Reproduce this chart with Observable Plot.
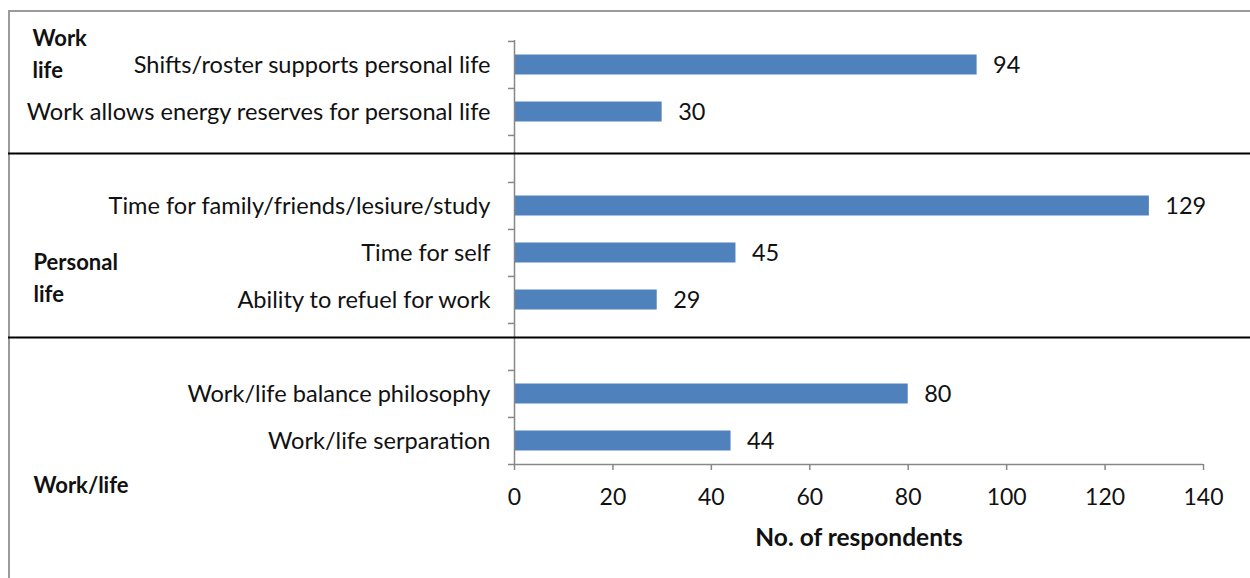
<!DOCTYPE html>
<html>
<head>
<meta charset="utf-8">
<script src="https://cdn.jsdelivr.net/npm/d3@7"></script>
<script src="https://cdn.jsdelivr.net/npm/@observablehq/plot@0.6"></script>
<style>
  html, body { margin: 0; padding: 0; background: #fff; }
  #wrap { position: relative; width: 1250px; height: 578px; overflow: hidden; }
  #border { position: absolute; left: 8px; top: 10px; right: -10px; bottom: -10px;
            border-left: 2px solid #9a9a9a; border-top: 2px solid #9a9a9a; pointer-events: none; }
  svg { font-family: Lato, "Open Sans", sans-serif; }
</style>
</head>
<body>
<div id="wrap"><div id="border"></div></div>
<script>
const categories = [
  "Shifts/roster supports personal life",
  "Work allows energy reserves for personal life",
  " ",
  "Time for family/friends/lesiure/study",
  "Time for self",
  "Ability to refuel for work",
  "  ",
  "Work/life balance philosophy",
  "Work/life serparation"
];
const values = [94, 30, null, 129, 45, 29, null, 80, 44];
const groupNames = ["Work\nlife", "Personal\nlife", "Work/life"];
const groupAnchor = ["Shifts/roster supports personal life", "Time for self", "Work/life serparation"];
const xTicks = [0, 20, 40, 60, 80, 100, 120, 140];
const xLabel = "No. of respondents";

const data = categories.map((c, i) => ({category: c, value: values[i]})).filter(d => d.value != null);
const groups = groupNames.map((g, i) => ({name: g, anchor: groupAnchor[i]}));

const W = 1250, H = 578, mL = 514, mR = 47, mT = 40, mB = 114;
const bw = (H - mT - mB) / categories.length;
const blue = "#4F81BD", axisGray = "#878787";

const chart = Plot.plot({
  width: W, height: H,
  marginLeft: mL, marginRight: mR, marginTop: mT, marginBottom: mB,
  style: {fontFamily: "Lato, 'Open Sans', sans-serif", background: "transparent", overflow: "visible"},
  x: {domain: [0, 140], axis: null},
  y: {domain: categories, padding: 0, axis: null},
  marks: [
    Plot.barX(data, {x: "value", y: "category", fill: blue, insetTop: 13.5, insetBottom: 13.5}),
    Plot.text(data, {x: "value", y: "category", text: d => String(d.value), textAnchor: "start", dx: 16, fontSize: 23.5, fill: "#111"}),
    // y axis labels
    Plot.axisY({tickSize: 0, tickPadding: 24, fontSize: 23.6, fill: "#111", tickFormat: d => d}),
    // y axis tick marks at band boundaries
    Plot.ruleY(categories, {y: d => d, x1: 0, x2: 0, insetLeft: -6, dy: -bw / 2, stroke: axisGray, strokeWidth: 1.5}),
    // y axis line
    Plot.ruleX([0], {stroke: axisGray, strokeWidth: 1.5}),
    // x axis line
    Plot.ruleY([categories[categories.length - 1]], {dy: bw / 2, insetLeft: -6, stroke: axisGray, strokeWidth: 1.5}),
    // x axis
    Plot.axisX(xTicks, {anchor: "bottom", tickSize: 6, tickPadding: 18, fontSize: 23, fill: "#111", stroke: axisGray, strokeWidth: 1.5, label: null}),
    Plot.text([xLabel], {frameAnchor: "bottom", dy: 81, fontSize: 24.5, fontWeight: "bold", fill: "#111"}),
    // separators
    Plot.ruleY([categories[2]], {insetLeft: -506, insetRight: -mR, dy: -5.5, stroke: "#000", strokeWidth: 2}),
    Plot.ruleY([categories[6]], {insetLeft: -506, insetRight: -mR, dy: -9.5, stroke: "#000", strokeWidth: 2}),
    // group labels
    Plot.text(groups.slice(0, 1), {x: 0, y: "anchor", text: "name", textAnchor: "start", dx: -482, dy: -13, lineHeight: 1.45, fontSize: 22, fontWeight: "bold", fill: "#111"}),
    Plot.text(groups.slice(1, 2), {x: 0, y: "anchor", text: "name", textAnchor: "start", dx: -481, dy: 23, lineHeight: 1.45, fontSize: 22, fontWeight: "bold", fill: "#111"}),
    Plot.text(groups.slice(2, 3), {x: 0, y: "anchor", text: "name", textAnchor: "start", dx: -481, dy: 45, fontSize: 22, fontWeight: "bold", fill: "#111"})
  ]
});
chart.style.position = "absolute";
chart.style.left = "0px";
chart.style.top = "0px";
document.getElementById("wrap").appendChild(chart);
</script>
</body>
</html>
